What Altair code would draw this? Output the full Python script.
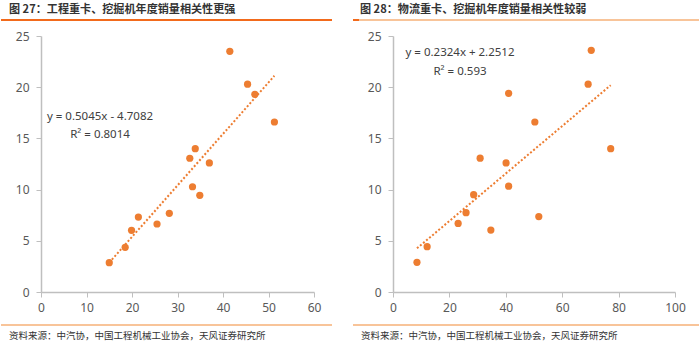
import altair as alt
import pandas as pd

# ---- data ----
left_x = [15.0, 18.5, 19.9, 21.4, 25.5, 28.2, 33.3, 34.9, 32.7, 33.9, 37.0, 41.5, 45.4, 47.0, 51.3]
left_y = [2.86, 4.36, 6.02, 7.32, 6.64, 7.68, 10.28, 9.44, 13.06, 14.0, 12.6, 23.5, 20.3, 19.3, 16.6]
right_x = [8.5, 12.1, 23.1, 25.9, 28.6, 34.7, 41.0, 51.7, 30.9, 40.1, 41.0, 50.3, 69.2, 70.3, 77.2]
right_y = [2.9, 4.43, 6.7, 7.75, 9.5, 6.05, 10.33, 7.37, 13.07, 12.6, 19.4, 16.6, 20.3, 23.6, 14.0]

left_title = "图 27：工程重卡、挖掘机年度销量相关性更强"
right_title = "图 28：物流重卡、挖掘机年度销量相关性较弱"
left_eq = ["y = 0.5045x - 4.7082", "R² = 0.8014"]
right_eq = ["y = 0.2324x + 2.2512", "R² = 0.593"]
source = "资料来源：中汽协，中国工程机械工业协会，天风证券研究所"

y_ticks = [0, 5, 10, 15, 20, 25]
left_x_ticks = [0, 10, 20, 30, 40, 50, 60]
right_x_ticks = [0, 20, 40, 60, 80, 100]

ORANGE = "#ED7D31"
DARK = "#F26A1B"
LIGHT = "#F8C499"
CJK = "Noto Sans CJK SC"
H = 256


def panel(xs, ys, xticks, width, eq, eq_xy, title, title_rules):
    df = pd.DataFrame({"x": xs, "y": ys})
    base = alt.Chart(df)
    xax = alt.X("x:Q", scale=alt.Scale(domain=[xticks[0], xticks[-1]], nice=False),
                axis=alt.Axis(values=xticks, title=None, labelPadding=5, labelFlush=False))
    yax = alt.Y("y:Q", scale=alt.Scale(domain=[0, 25], nice=False),
                axis=alt.Axis(values=y_ticks, title=None, labelPadding=7, labelFlush=False))
    pts = base.mark_circle(size=52, color=ORANGE, opacity=1).encode(x=xax, y=yax)
    trend = base.transform_regression("x", "y").mark_line(
        color=ORANGE, strokeDash=[2, 2], strokeWidth=2).encode(x=xax, y=yax)

    one = alt.Data(values=[{"a": 1}])
    layers = [trend, pts]
    (ex, ey1), (_, ey2) = eq_xy
    layers.append(alt.Chart(one).mark_text(font="Noto Sans", fontSize=11.5, color="#404040",
                                           align="center", baseline="middle").encode(
        x=alt.value(ex), y=alt.value(ey1), text=alt.value(eq[0])))
    layers.append(alt.Chart(one).mark_text(font="Noto Sans", fontSize=11.5, color="#404040",
                                           align="center", baseline="middle").encode(
        x=alt.value(ex), y=alt.value(ey2), text=alt.value(eq[1])))
    tx = title_rules[0][0]
    layers.append(alt.Chart(one).mark_text(font=CJK, fontSize=11.1, fontWeight="bold", color="#333333",
                                           align="left", baseline="middle").encode(
        x=alt.value(tx + title_rules[2]), y=alt.value(-26), text=alt.value(title)))
    for (x1, x2, col) in title_rules[1]:
        layers.append(alt.Chart(one).mark_rule(color=col, strokeWidth=2).encode(
            x=alt.value(x1), x2=alt.value(x2), y=alt.value(-16)))
    x1, x2 = title_rules[0]
    layers.append(alt.Chart(one).mark_rule(color=LIGHT, strokeWidth=2).encode(
        x=alt.value(x1), x2=alt.value(x2), y=alt.value(H + 33)))
    layers.append(alt.Chart(one).mark_text(font=CJK, fontSize=9.5, color="#333333",
                                           align="left", baseline="middle").encode(
        x=alt.value(x1 + 8), y=alt.value(H + 44), text=alt.value(source)))
    layers.append(alt.Chart(one).mark_rule(color="white", strokeOpacity=0, strokeWidth=1).encode(
        x=alt.value(x1), x2=alt.value(x1 + 1), y=alt.value(-35.5)))
    return alt.layer(*layers).properties(width=width, height=H)


left = panel(left_x, left_y, left_x_ticks, 273, left_eq, [(59, 81), (59, 99)], left_title,
             [(-40, 291), [(-40, 291, DARK)], 8])
right = panel(right_x, right_y, right_x_ticks, 282, right_eq, [(67, 17), (67, 36)], right_title,
              [(-40, 306), [(-40, -34, DARK), (-34, 306, LIGHT)], 7])

chart = alt.hconcat(left, right, spacing=19).properties(padding=0).configure_view(
    stroke=None).configure_axis(
    grid=False, domainColor="#BFBFBF", domainWidth=1.5, tickColor="#BFBFBF", tickSize=5,
    labelColor="#595959", labelFontSize=12, labelFont="Noto Sans")

chart.save("out.html", embed_options={"renderer": "svg", "actions": False})
